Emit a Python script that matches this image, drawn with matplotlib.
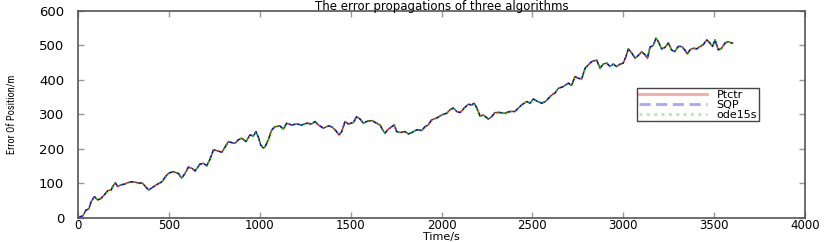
import matplotlib
matplotlib.use("Agg")
import matplotlib.pyplot as plt
import numpy as np

# values (time in s, error in m)
time_s = [0, 26, 44, 59, 72, 90, 108, 127, 145, 163, 182, 191, 205, 218, 237, 255, 273, 301,
          328, 356, 374, 389, 411, 438, 462, 475, 493, 506, 524, 552, 570, 589, 607, 626,
          644, 671, 690, 708, 726, 745, 763, 791, 809, 827, 846, 864, 882, 901, 924, 946,
          965, 979, 992, 1005, 1020, 1029, 1047, 1066, 1084, 1111, 1130, 1148, 1176, 1203,
          1231, 1258, 1286, 1304, 1322, 1350, 1377, 1396, 1418, 1436, 1451, 1469, 1487,
          1515, 1533, 1552, 1570, 1588, 1616, 1643, 1662, 1676, 1689, 1707, 1726, 1740,
          1753, 1772, 1799, 1817, 1836, 1863, 1891, 1909, 1927, 1946, 1974, 2001, 2029,
          2047, 2065, 2084, 2102, 2129, 2148, 2166, 2180, 2194, 2212, 2230, 2258, 2276,
          2294, 2322, 2349, 2377, 2404, 2423, 2441, 2469, 2487, 2505, 2529, 2551, 2573,
          2597, 2615, 2624, 2643, 2670, 2698, 2716, 2734, 2753, 2771, 2790, 2808, 2826,
          2854, 2872, 2890, 2909, 2927, 2945, 2964, 2982, 3000, 3015, 3028, 3047, 3065,
          3083, 3101, 3120, 3133, 3147, 3165, 3180, 3193, 3211, 3229, 3248, 3266, 3284,
          3302, 3321, 3339, 3352, 3367, 3385, 3404, 3422, 3440, 3459, 3477, 3491, 3505,
          3523, 3541, 3560, 3578, 3596, 3602]
error_ptctr = [2, 6, 23, 26, 47, 62, 52, 57, 67, 79, 81, 91, 102, 91, 96, 98, 102, 105,
               102, 100, 89, 81, 89, 98, 105, 115, 127, 131, 134, 129, 115, 129, 147, 144,
               136, 156, 158, 151, 170, 197, 195, 190, 205, 221, 218, 216, 226, 231, 221, 240,
               237, 250, 234, 211, 202, 206, 226, 255, 264, 266, 257, 274, 269, 272,
               269, 274, 272, 279, 269, 260, 266, 264, 253, 240, 250, 279, 272,
               276, 293, 286, 274, 279, 282, 274, 269, 255, 245, 257, 264, 269,
               250, 247, 250, 243, 247, 255, 253, 264, 269, 284, 289, 298, 303,
               313, 318, 308, 305, 320, 329, 327, 332, 318, 295, 298, 286, 293,
               305, 305, 303, 308, 308, 318, 327, 337, 332, 344, 337, 332, 337,
               351, 359, 361, 375, 380, 390, 383, 409, 404, 402, 433, 443, 452,
               457, 433, 445, 448, 438, 445, 438, 445, 448, 467, 489, 477, 462,
               470, 481, 472, 462, 494, 499, 520, 510, 489, 493, 506, 486, 481,
               496, 496, 486, 474, 486, 491, 489, 496, 501, 515, 506, 496, 515,
               486, 491, 506, 510, 506, 506]
# the three algorithms overlap completely in the picture
error_sqp = list(error_ptctr)
error_ode15s = list(error_ptctr)

fig = plt.figure(figsize=(8.31, 2.42), dpi=100)
ax = fig.add_axes([0.0939, 0.0992, 0.8748, 0.8574])

ax.plot(time_s, error_ptctr, '-', color='#ff0000', lw=1.0, label='Ptctr')
ax.plot(time_s, error_sqp, '--', color='#0000ff', lw=1.0, dashes=(4, 2), label='SQP')
ax.plot(time_s, error_ode15s, ':', color='#00cc00', lw=1.2, label='ode15s')

ax.set_xlim(0, 4000)
ax.set_ylim(0, 600)
ax.set_xticks(np.arange(0, 4001, 500))
ax.set_yticks(np.arange(0, 601, 100))
ax.tick_params(direction='in', top=True, right=True, length=4, width=1,
               color='#999999', labelsize=9.5, pad=10)
ax.tick_params(axis='x', labelsize=8.5, pad=1)
for sp in ax.spines.values():
    sp.set_color('#555555')
    sp.set_linewidth(1.2)

ax.text(0.5, 1.002, 'The error propagations of three algorithms', fontsize=8.5,
        ha='center', va='baseline', transform=ax.transAxes)
ax.set_xlabel('Time/s', fontsize=8, va='bottom')
ax.xaxis.set_label_coords(0.5, -0.1155)
ax.set_ylabel('Error Of Position/m', fontsize=7.5,
              family=['Roboto Condensed', 'Liberation Sans Narrow', 'Liberation Sans'])
ax.yaxis.set_label_coords(-0.083, 0.5)

leg = ax.legend(loc='upper left', bbox_to_anchor=(0.769, 0.627), fontsize=8,
                handlelength=6.1, labelspacing=0.0, borderpad=0.15, borderaxespad=0,
                handletextpad=0.9, fancybox=False, framealpha=1,
                edgecolor='#444444')
leg.get_frame().set_linewidth(1.0)
for h in leg.get_lines():
    h.set_alpha(0.35)
    h.set_linewidth(2)

fig.savefig('out.png', dpi=100)
